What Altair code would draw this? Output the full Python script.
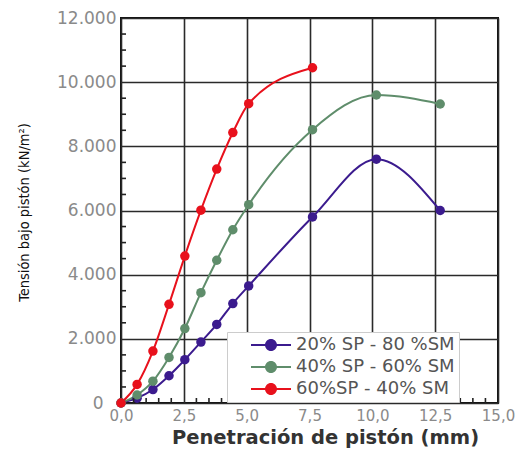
import altair as alt
import pandas as pd

# Penetración (mm) – lecturas estándar del ensayo
penetracion = [0.0, 0.64, 1.27, 1.91, 2.54, 3.18, 3.81, 4.45, 5.08, 7.62, 10.16, 12.70]
serie_20 = [0, 150, 420, 850, 1350, 1900, 2450, 3100, 3650, 5800, 7600, 6000]
serie_40 = [0, 250, 680, 1420, 2320, 3440, 4450, 5400, 6180, 8520, 9600, 9320]
serie_60 = [0, 580, 1620, 3075, 4580, 6010, 7290, 8430, 9330, 10450]

nombres = ["20% SP - 80 %SM", "40% SP - 60% SM", "60%SP - 40% SM"]
colores = ["#3b1b8e", "#5f8d6b", "#e8111c"]

x_mayores = [0, 2.5, 5, 7.5, 10, 12.5, 15]
y_mayores = [0, 2000, 4000, 6000, 8000, 10000, 12000]
x_menores = [0.5, 1.0, 1.5, 2.0, 3.0, 3.5, 4.0, 4.5, 5.5, 6.0, 6.5, 7.0, 8.0, 8.5, 9.0,
             9.5, 10.5, 11.0, 11.5, 12.0, 13.0, 13.5, 14.0, 14.5]
y_menores = [500, 1000, 1500, 2500, 3000, 3500, 4500, 5000, 5500, 6500, 7000, 7500,
             8500, 9000, 9500, 10500, 11000, 11500]

rows = []
for nombre, serie in zip(nombres, [serie_20, serie_40, serie_60]):
    for x, y in zip(penetracion, serie):
        rows.append({"serie": nombre, "pen": x, "tension": y})
df = pd.DataFrame(rows)
df_xm = pd.DataFrame({"pen": x_menores})
df_ym = pd.DataFrame({"tension": y_menores})

symbol_path = ("M-4,-0.22L-1.1,-0.22L-1.1,0.22L-4,0.22Z"
               "M1.1,-0.22L4,-0.22L4,0.22L1.1,0.22Z"
               "M1.2,0A1.2,1.2,0,1,1,-1.2,0A1.2,1.2,0,1,1,1.2,0Z")

x_scale = alt.Scale(domain=[0, 15], nice=False)
y_scale = alt.Scale(domain=[0, 12000], nice=False)

x_enc = alt.X(
    "pen:Q", scale=x_scale,
    axis=alt.Axis(
        values=x_mayores,
        title="Penetración de pistón (mm)",
        labelExpr="replace(format(datum.value, '.1f'), '.', ',')",
        labelFont="DejaVu Sans", labelFontSize=15, labelColor="#8a8a8a", labelPadding=5,
        ticks=False, domain=False, labelOverlap=False, labelFlush=False,
        grid=True, gridColor="#2a2a2a", gridWidth=1.6,
        titleFont="DejaVu Sans", titleFontSize=19.5, titleFontWeight="bold", titleColor="#333333",
        titleX=204, titleY=34, titleBaseline="middle", titleAlign="center",
    ),
)
y_enc = alt.Y(
    "tension:Q", scale=y_scale,
    axis=alt.Axis(
        values=y_mayores,
        title="Tensión bajo pistón (kN/m²)",
        labelExpr="replace(format(datum.value, ',d'), ',', '.')",
        labelFont="DejaVu Sans", labelFontSize=17, labelColor="#8a8a8a",
        labelPadding=alt.ConditionalAxisNumber(
            condition={"test": "datum.value === 0", "value": 18}, value=5),
        ticks=False, domain=False, labelOverlap=False, labelFlush=False,
        grid=True, gridColor="#2a2a2a", gridWidth=1.6,
        titleFont="Liberation Sans Narrow, DejaVu Sans Condensed, sans-serif", titleFontSize=14.5,
        titleFontWeight="normal", titleColor="#111111",
        titleX=-97, titleY=194, titleAngle=-90, titleAlign="center", titleBaseline="middle",
    ),
)
color_scale = alt.Scale(domain=nombres, range=colores)
leyenda = alt.Legend(
    title=None, orient="none", legendX=106, legendY=314, direction="vertical",
    symbolType=symbol_path, symbolSize=100, symbolStrokeWidth=0,
    symbolOffset=31, labelOffset=16,
    labelExpr="datum.label + '\u00a0\u00a0\u00a0\u00a0\u00a0'",
    labelFont="DejaVu Sans", labelFontSize=18, labelColor="#555555", labelLimit=400,
    fillColor="white", strokeColor="#cccccc", padding=4, rowPadding=4,
)

marcas_x = alt.Chart(df_xm).mark_rule(color="#222222", strokeWidth=1.6).encode(
    x=alt.X("pen:Q", scale=x_scale), y=alt.value(385), y2=alt.value(380))
marcas_y = alt.Chart(df_ym).mark_rule(color="#222222", strokeWidth=1.6).encode(
    y=alt.Y("tension:Q", scale=y_scale), x=alt.value(0), x2=alt.value(5))

lineas = alt.Chart(df).mark_line(interpolate="monotone", strokeWidth=2).encode(
    x=x_enc, y=y_enc,
    color=alt.Color("serie:N", scale=color_scale, legend=leyenda),
)
puntos = alt.Chart(df).mark_circle(size=90, opacity=1).encode(
    x="pen:Q", y="tension:Q",
    color=alt.Color("serie:N", scale=color_scale, legend=leyenda),
)

chart = alt.layer(lineas, puntos, marcas_x, marcas_y).properties(
    width=377, height=385,
    autosize=alt.AutoSizeParams(type="none"),
    padding={"left": 113, "top": 10, "right": 17, "bottom": 49},
).configure_view(stroke="#111111", strokeWidth=2)

chart.save("out.html", embed_options={"renderer": "svg", "actions": False})
